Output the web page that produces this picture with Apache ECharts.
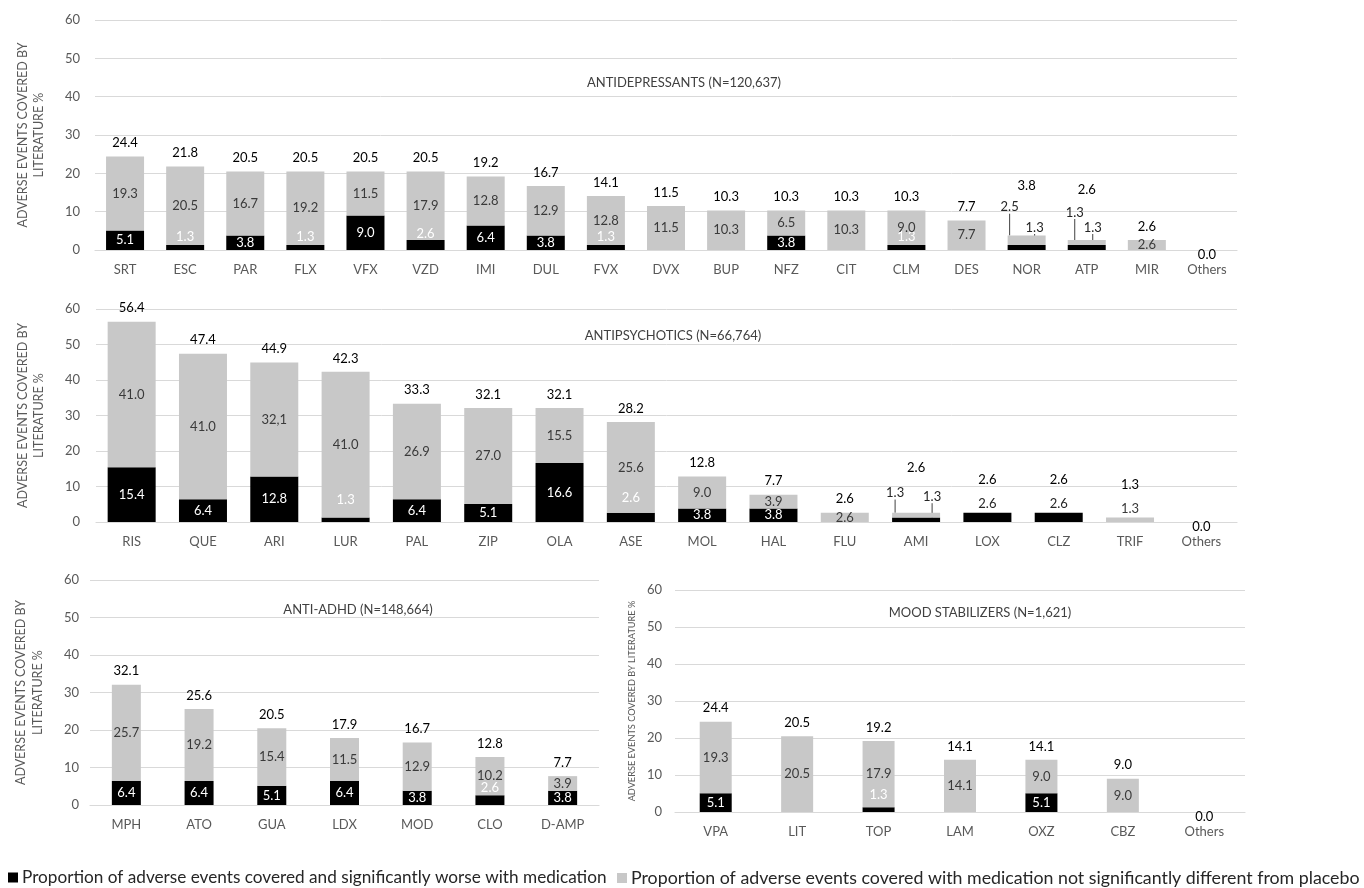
<!DOCTYPE html>
<html><head><meta charset="utf-8">
<script src="https://cdn.jsdelivr.net/npm/echarts@6/dist/echarts.min.js"></script>
<style>html,body{margin:0;padding:0;background:#fff}#c{width:1364px;height:888px}</style>
</head><body><div id="c"></div>
<script>
// ---------------- DATA ----------------
const WORSE = 'Proportion of adverse events covered and significantly worse with medication';
const NOTDIFF = 'Proportion of adverse events covered with medication not significantly different from placebo';
const yAxisTitle = 'ADVERSE EVENTS COVERED BY LITERATURE %';
const yMin = 0, yMax = 60, yStep = 10;

const adTitle = 'ANTIDEPRESSANTS (N=120,637)';
const adCats    = ['SRT','ESC','PAR','FLX','VFX','VZD','IMI','DUL','FVX','DVX','BUP','NFZ','CIT','CLM','DES','NOR','ATP','MIR','Others'];
const adWorse   = [5.1, 1.3, 3.8, 1.3, 9.0, 2.6, 6.4, 3.8, 1.3, 0, 0, 3.8, 0, 1.3, 0, 1.3, 1.3, 0, 0];
const adNotDiff = [19.3, 20.5, 16.7, 19.2, 11.5, 17.9, 12.8, 12.9, 12.8, 11.5, 10.3, 6.5, 10.3, 9.0, 7.7, 2.5, 1.3, 2.6, 0];
const adTotal   = [24.4, 21.8, 20.5, 20.5, 20.5, 20.5, 19.2, 16.7, 14.1, 11.5, 10.3, 10.3, 10.3, 10.3, 7.7, 3.8, 2.6, 2.6, 0.0];

const apTitle = 'ANTIPSYCHOTICS (N=66,764)';
const apCats    = ['RIS','QUE','ARI','LUR','PAL','ZIP','OLA','ASE','MOL','HAL','FLU','AMI','LOX','CLZ','TRIF','Others'];
const apWorse   = [15.4, 6.4, 12.8, 1.3, 6.4, 5.1, 16.6, 2.6, 3.8, 3.8, 0, 1.3, 2.6, 2.6, 0, 0];
const apNotDiff = [41.0, 41.0, 32.1, 41.0, 26.9, 27.0, 15.5, 25.6, 9.0, 3.9, 2.6, 1.3, 0, 0, 1.3, 0];
const apTotal   = [56.4, 47.4, 44.9, 42.3, 33.3, 32.1, 32.1, 28.2, 12.8, 7.7, 2.6, 2.6, 2.6, 2.6, 1.3, 0.0];
const apNotDiffPrinted = {ARI: '32,1'};   // label text as printed in the source

const adhdTitle = 'ANTI-ADHD (N=148,664)';
const adhdCats    = ['MPH','ATO','GUA','LDX','MOD','CLO','D-AMP'];
const adhdWorse   = [6.4, 6.4, 5.1, 6.4, 3.8, 2.6, 3.8];
const adhdNotDiff = [25.7, 19.2, 15.4, 11.5, 12.9, 10.2, 3.9];
const adhdTotal   = [32.1, 25.6, 20.5, 17.9, 16.7, 12.8, 7.7];

const msTitle = 'MOOD STABILIZERS (N=1,621)';
const msCats    = ['VPA','LIT','TOP','LAM','OXZ','CBZ','Others'];
const msWorse   = [5.1, 0, 1.3, 0, 5.1, 0, 0];
const msNotDiff = [19.3, 20.5, 17.9, 14.1, 9.0, 9.0, 0];
const msTotal   = [24.4, 20.5, 19.2, 14.1, 14.1, 9.0, 0.0];

// ---------------- STYLE / LAYOUT ----------------
const FONT = 'Lato';
const BLACK = '#000000', GRAY = '#c8c8c8', AXIS_TXT = '#595959', GRID_LINE = '#d9d9d9', INNER_TXT = '#3a3a3a';

const panels = [
  {title: adTitle, cats: adCats, worse: adWorse, notDiff: adNotDiff, total: adTotal, printed: {},
   grid: {left: 95, top: 20, width: 1142, height: 230}, barWidth: 38, smallDy: -11,
   titlePos: [684, 76], name: 'ADVERSE EVENTS COVERED BY\nLITERATURE %', nameSize: 12.5, nameLH: 16, nameGap: 48, yMargin: 15,
   tweaks: {NOR: {notDiff: [-17, -33], worse: [8, -20], total: -36}, ATP: {notDiff: [-12, -30], worse: [6, -20], total: -37}}},
  {title: apTitle, cats: apCats, worse: apWorse, notDiff: apNotDiff, total: apTotal, printed: apNotDiffPrinted,
   grid: {left: 96, top: 309, width: 1141, height: 213}, barWidth: 48, smallDy: -20,
   titlePos: [673, 329], name: 'ADVERSE EVENTS COVERED BY\nLITERATURE %', nameSize: 12.5, nameLH: 16, nameGap: 49, yMargin: 16,
   tweaks: {AMI: {notDiff: [-21, -22], worse: [16, -23], total: -31}}},
  {title: adhdTitle, cats: adhdCats, worse: adhdWorse, notDiff: adhdNotDiff, total: adhdTotal, printed: {},
   grid: {left: 90, top: 580, width: 509, height: 225}, barWidth: 29, smallDy: -12,
   titlePos: [358, 603], name: 'ADVERSE EVENTS COVERED BY\nLITERATURE %', nameSize: 12.5, nameLH: 17, nameGap: 44, yMargin: 11,
   tweaks: {}},
  {title: msTitle, cats: msCats, worse: msWorse, notDiff: msNotDiff, total: msTotal, printed: {},
   grid: {left: 675, top: 590, width: 570, height: 222}, barWidth: 32, smallDy: -15,
   titlePos: [980, 606], name: yAxisTitle, nameSize: 9.2, nameLH: 11, nameGap: 37, yMargin: 13,
   tweaks: {}}
];

const fmt = v => (+v).toFixed(1);
const legendText1 = {fontFamily: FONT, fontSize: 17.2, color: '#262626', padding: [0, 0, 0, -1]};
const legendText2 = {fontFamily: FONT, fontSize: 17.8, color: '#262626', padding: [0, 0, 0, -1]};
const option = {
  animation: false,
  textStyle: {fontFamily: FONT},
  title: [], grid: [], xAxis: [], yAxis: [], series: [],
  legend: [
    {left: 3, top: 864, data: [WORSE], icon: 'rect', itemWidth: 10, itemHeight: 10, textStyle: legendText1},
    {left: 612, top: 864, data: [NOTDIFF], icon: 'rect', itemWidth: 10, itemHeight: 10, textStyle: legendText2}
  ]
};

panels.forEach((P, pi) => {
  option.title.push({text: P.title, left: P.titlePos[0], top: P.titlePos[1], textAlign: 'center', padding: 0,
    textStyle: {fontFamily: FONT, fontSize: 13, fontWeight: 'normal', color: '#404040'}});
  option.grid.push(Object.assign({containLabel: false}, P.grid));
  option.xAxis.push({type: 'category', gridIndex: pi, data: P.cats,
    axisLine: {show: true, lineStyle: {color: GRID_LINE, width: 1.2}}, axisTick: {show: false},
    axisLabel: {color: AXIS_TXT, fontSize: 13, margin: 13, fontFamily: FONT, interval: 0}});
  option.yAxis.push({type: 'value', gridIndex: pi, min: yMin, max: yMax, interval: yStep,
    axisLine: {show: false}, axisTick: {show: false},
    splitLine: {lineStyle: {color: GRID_LINE, width: 1}},
    axisLabel: {color: AXIS_TXT, fontSize: 13, margin: P.yMargin, fontFamily: FONT},
    name: P.name, nameLocation: 'middle', nameRotate: 90, nameGap: P.nameGap,
    nameTextStyle: {color: AXIS_TXT, fontSize: P.nameSize, lineHeight: P.nameLH, fontFamily: FONT, align: 'center'}});

  const T = P.tweaks;
  const topLabel = [];
  const guide = {show: true, length2: 0, lineStyle: {color: '#404040', width: 1}};
  const worseShift = [], notDiffShift = [];

  const worseData = P.worse.map((v, i) => {
    const t = T[P.cats[i]] || {};
    const it = {value: v};
    if (v === 0) { it.label = {show: false}; return it; }
    if (t.worse) { it.label = {color: '#262626'}; it.labelLine = guide; worseShift[i] = t.worse; return it; }
    if (v < 3) {
      if (P.notDiff[i] > 0) worseShift[i] = [0, P.smallDy];
      else { it.label = {position: 'top', distance: 2, color: '#262626'}; topLabel[i] = true; }
    }
    return it;
  });
  const notDiffData = P.notDiff.map((v, i) => {
    const t = T[P.cats[i]] || {};
    const it = {value: v};
    if (v === 0) { it.label = {show: false}; return it; }
    if (t.notDiff) { it.label = {color: '#262626'}; it.labelLine = guide; notDiffShift[i] = t.notDiff; return it; }
    if (v < 2 && P.worse[i] === 0) { it.label = {position: 'top', distance: 2}; topLabel[i] = true; }
    return it;
  });
  const totalData = P.total.map((v, i) => {
    const t = T[P.cats[i]] || {};
    let dy = 0;
    if (v === 0) dy = 18;
    else if (t.total != null) dy = t.total;
    else if (topLabel[i]) dy = -19;
    return {value: v, label: {offset: [0, dy]}};
  });
  const layoutFrom = shifts => (p => {
    const s = shifts[p.dataIndex];
    return s ? {dx: s[0], dy: s[1]} : {};
  });

  option.series.push({
    name: WORSE, type: 'bar', xAxisIndex: pi, yAxisIndex: pi, stack: 's' + pi,
    barWidth: P.barWidth, barGap: '-100%', data: worseData,
    itemStyle: {color: BLACK},
    label: {show: true, position: 'inside', color: '#ffffff', fontSize: 13, fontFamily: FONT,
      formatter: p => fmt(p.value)},
    labelLayout: layoutFrom(worseShift)
  });
  option.series.push({
    name: NOTDIFF, type: 'bar', xAxisIndex: pi, yAxisIndex: pi, stack: 's' + pi,
    barWidth: P.barWidth, barGap: '-100%', data: notDiffData,
    itemStyle: {color: GRAY},
    label: {show: true, position: 'inside', color: INNER_TXT, fontSize: 13, fontFamily: FONT,
      formatter: p => P.printed[P.cats[p.dataIndex]] || fmt(p.value)},
    labelLayout: layoutFrom(notDiffShift)
  });
  option.series.push({
    name: 'Total', type: 'bar', xAxisIndex: pi, yAxisIndex: pi,
    barWidth: P.barWidth, barGap: '-100%', data: totalData, silent: true,
    itemStyle: {color: 'rgba(0,0,0,0)'},
    label: {show: true, position: 'top', distance: 7, color: '#000000', fontSize: 13, fontFamily: FONT,
      formatter: p => fmt(p.value)}
  });
});

const chart = echarts.init(document.getElementById('c'), null, {renderer: 'canvas'});
chart.setOption(option);
</script>
</body></html>
